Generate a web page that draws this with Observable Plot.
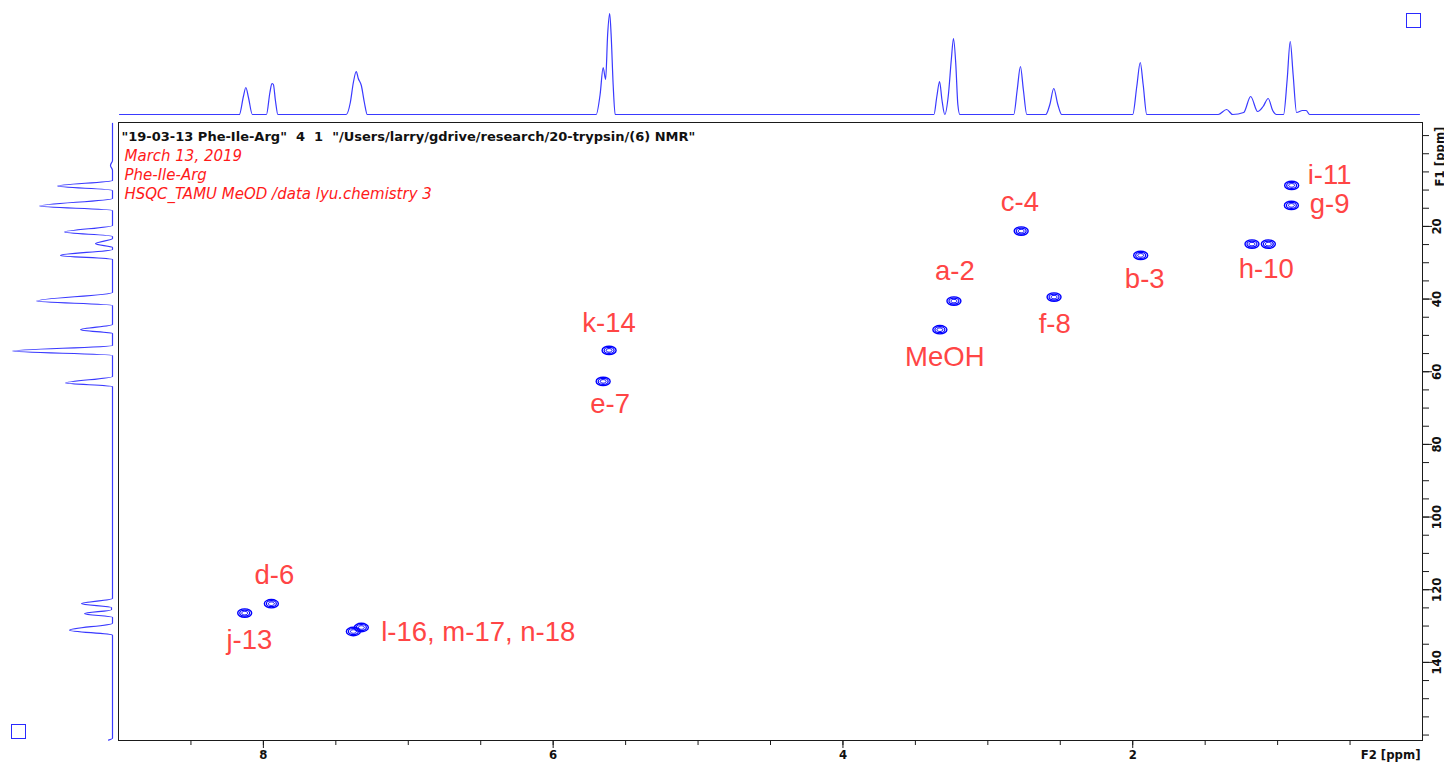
<!DOCTYPE html>
<html><head><meta charset="utf-8">
<script src="https://cdn.jsdelivr.net/npm/d3@7"></script>
<script src="https://cdn.jsdelivr.net/npm/@observablehq/plot@0.6"></script>
<style>
body{margin:0;overflow:hidden;background:#fff}
#wrap{position:relative;width:1444px;height:765px}
#wrap svg{position:absolute;left:0;top:0;max-width:none}
#wrap text{white-space:pre}
.sq{position:absolute;border:1.5px solid #2a2aff;box-sizing:border-box;width:15px;height:15px}
</style>
</head><body><div id="wrap"></div>
<script>
// ---- axes ----
const f2Domain = [9, 0];
const f1Domain = [-8.6, 161.5];
const f2Minor = d3.range(0.5, 8.51, 0.5);
const f2Labels = [8, 6, 4, 2];
const f1Minor = d3.range(-5, 161, 5);
const f1Labels = [20, 40, 60, 80, 100, 120, 140];
const f2Title = "F2 [ppm]";
const f1Title = "F1 [ppm]";

// ---- header text ----
const headerLine = "\"19-03-13 Phe-Ile-Arg\"  4  1  \"/Users/larry/gdrive/research/20-trypsin/(6) NMR\"";
const infoLines = ["March 13, 2019", "Phe-Ile-Arg", "HSQC_TAMU MeOD /data lyu.chemistry 3"];

// ---- cross peaks (1H ppm, 13C ppm) ----
const peakH = [0.903, 0.905, 1.177, 1.064, 1.945, 2.770, 2.543, 3.234, 3.331, 5.614, 5.655, 7.945, 8.129, 7.379, 7.324];
const peakC = [8.71, 14.22, 24.87, 24.87, 27.98, 21.29, 39.46, 40.56, 48.43, 54.13, 62.66, 123.85, 126.44, 131.5, 130.4];

// ---- peak labels ----
const labelText = ["i-11", "g-9", "c-4", "h-10", "b-3", "a-2", "f-8", "MeOH", "k-14", "e-7", "d-6", "j-13", "l-16, m-17, n-18"];
const labelH = [0.641, 0.641, 2.779, 1.078, 1.917, 3.228, 2.538, 3.297, 5.614, 5.607, 7.924, 8.097, 6.517];
const labelC = [5.96, 13.75, 13.31, 31.64, 34.40, 32.30, 46.78, 55.98, 46.70, 69.0, 116.06, 133.96, 131.6];

// ---- 1D projection along F2 (top) ----
const topPpm = [8.993,8.166,8.138,8.121,8.103,8.076,7.979,7.955,7.941,7.931,7.917,7.900,7.428,7.400,7.379,7.359,7.345,7.324,7.303,7.283,
  5.703,5.676,5.655,5.638,5.624,5.610,5.600,5.586,5.572,3.372,3.352,3.333,3.317,3.297,3.272,3.252,3.237,3.221,3.207,3.193,
  2.821,2.797,2.775,2.755,2.731,2.600,2.572,2.545,2.517,2.490,2.000,1.972,1.948,1.928,1.903,1.410,1.352,1.310,1.234,1.186,1.138,
  1.100,1.065,1.034,1.007,0.959,0.934,0.913,0.893,0.869,0.828,0.803,0.779,0.021];
const topInt = [0,0,18,27,17,0,0,22,31,30,14,0,0,12,32,43,36,29,12,0,
  0,20,47,35,80,101,80,30,0,0,18,33,15,0,20,55,76,50,10,0,
  0,25,48,25,0,0,10,26,10,0,0,28,52,30,0,0,5,0,2,18,3,
  8,16,4,0,0,35,73,40,2,4,4,0,0];

// ---- 1D projection along F1 (left) ----
const leftPpm = [-8.4,1.83,3.21,4.59,7.34,8.91,10.09,12.29,14.41,15.60,19.72,21.57,22.75,23.30,24.76,25.78,26.33,27.98,29.08,
  38.17,40.56,41.75,46.97,48.43,49.45,52.75,54.32,55.51,61.29,63.13,64.04,122.4,123.85,124.9,125.5,126.6,127.6,129.2,131.15,132.5,160.9,161.4];
const leftInt = [0,0,2,0,0,55,0,0,73,0,0,48,0,0,17,0,0,52,0,
  0,76,0,0,32,0,0,100,0,0,47,0,0,31,1,1,28,0,0,43,0,0,4];

const topTrace = topPpm.map((p, i) => ({ppm: p, v: topInt[i]}));
const leftTrace = leftPpm.map((p, i) => ({ppm: p, v: leftInt[i]}));
const peaks = peakH.map((h, i) => ({h, c: peakC[i]}));
const labels = labelText.map((t, i) => ({t, h: labelH[i], c: labelC[i]}));

const ellipse = {
  draw(ctx, size) {
    const r = Math.sqrt(size / Math.PI), rx = r, ry = r * 0.6, k = 0.5523;
    ctx.moveTo(rx, 0);
    ctx.bezierCurveTo(rx, ry * k, rx * k, ry, 0, ry);
    ctx.bezierCurveTo(-rx * k, ry, -rx, ry * k, -rx, 0);
    ctx.bezierCurveTo(-rx, -ry * k, -rx * k, -ry, 0, -ry);
    ctx.bezierCurveTo(rx * k, -ry, rx, -ry * k, rx, 0);
    ctx.closePath();
  }
};

const axisFont = "'DejaVu Sans Condensed', 'DejaVu Sans', sans-serif";
const headFont = "'DejaVu Sans', sans-serif";
const blue = "#0000ff";
const traceBlue = "#3a3aff";

const mainPlot = Plot.plot({
  width: 1444, height: 765,
  marginLeft: 118, marginRight: 22, marginTop: 122, marginBottom: 25,
  x: {domain: f2Domain, axis: null},
  y: {domain: f1Domain, reverse: true, axis: null},
  style: {background: "white", overflow: "visible"},
  marks: [
    Plot.frame({stroke: "#1a1a1a", strokeWidth: 1}),
    Plot.axisX({anchor: "bottom", ticks: f2Minor, tickSize: 5, fill: "none", label: null, stroke: "#1a1a1a"}),
    Plot.axisX({anchor: "bottom", ticks: f2Labels, tickSize: 8, fill: "none", label: null, stroke: "#1a1a1a"}),
    Plot.text(f2Labels, {x: d => d, frameAnchor: "bottom", dy: 18, text: d => String(d),
      fontFamily: axisFont, fontWeight: "bold", fontSize: 13, fill: "#111"}),
    Plot.text([f2Title], {frameAnchor: "bottom-right", textAnchor: "end", dx: -2, dy: 18, text: d => d,
      fontFamily: axisFont, fontWeight: "bold", fontSize: 13, fill: "#111"}),
    Plot.axisY({anchor: "right", ticks: f1Minor, tickSize: 6, fill: "none", label: null, stroke: "#1a1a1a"}),
    Plot.axisY({anchor: "right", ticks: f1Labels, tickSize: 9, fill: "none", label: null, stroke: "#1a1a1a"}),
    Plot.text(f1Labels, {y: d => d, frameAnchor: "right", dx: 14, rotate: -90, textAnchor: "middle", text: d => String(d),
      fontFamily: axisFont, fontWeight: "bold", fontSize: 13, fill: "#111"}),
    Plot.text([f1Title], {frameAnchor: "top-right", dx: 12, dy: 34, rotate: -90, textAnchor: "middle", text: d => d,
      fontFamily: axisFont, fontWeight: "bold", fontSize: 13, fill: "#111"}),
    Plot.text([headerLine], {frameAnchor: "top-left", dx: 3, dy: 9, textAnchor: "start", text: d => d,
      fontFamily: headFont, fontWeight: "bold", fontSize: 13, fill: "#111"}),
    Plot.text([infoLines.join("\n")], {frameAnchor: "top-left", dx: 6, dy: 25, textAnchor: "start", lineAnchor: "top",
      lineHeight: 1.27, text: d => d, fontFamily: headFont, fontStyle: "italic", fontSize: 15, fill: "#ff1a1a"}),
    Plot.dot(peaks, {x: "h", y: "c", r: 7, symbol: ellipse, stroke: blue, strokeWidth: 1.4, fill: "none"}),
    Plot.dot(peaks, {x: "h", y: "c", r: 5, symbol: ellipse, stroke: blue, strokeWidth: 1.2, fill: "none"}),
    Plot.dot(peaks, {x: "h", y: "c", r: 3, symbol: ellipse, stroke: blue, strokeWidth: 1, fill: "none"}),
    Plot.text(labels, {x: "h", y: "c", text: "t", fontFamily: "'Liberation Sans', Arial, sans-serif", fontSize: 27.5, fill: "#ff4545"})
  ]
});

const topPlot = Plot.plot({
  width: 1444, height: 122,
  marginLeft: 118, marginRight: 22, marginTop: 0, marginBottom: 8,
  x: {domain: f2Domain, axis: null},
  y: {domain: [0, 114], axis: null},
  style: {background: "transparent", overflow: "visible"},
  marks: [
    Plot.line(topTrace, {x: "ppm", y: "v", stroke: traceBlue, strokeWidth: 1.2, curve: "monotone-x"})
  ]
});

const leftPlot = Plot.plot({
  width: 118, height: 765,
  marginLeft: 0, marginRight: 6, marginTop: 122, marginBottom: 25,
  x: {domain: [112, 0], axis: null},
  y: {domain: f1Domain, reverse: true, axis: null},
  style: {background: "transparent", overflow: "visible"},
  marks: [
    Plot.line(leftTrace, {x: "v", y: "ppm", stroke: traceBlue, strokeWidth: 1.2, curve: "monotone-y"})
  ]
});

const wrap = document.getElementById("wrap");
wrap.appendChild(mainPlot);
wrap.appendChild(topPlot);
wrap.appendChild(leftPlot);
for (const [l, t] of [[1406, 13], [11, 724]]) {
  const s = document.createElement("div");
  s.className = "sq"; s.style.left = l + "px"; s.style.top = t + "px";
  wrap.appendChild(s);
}
</script></body></html>
